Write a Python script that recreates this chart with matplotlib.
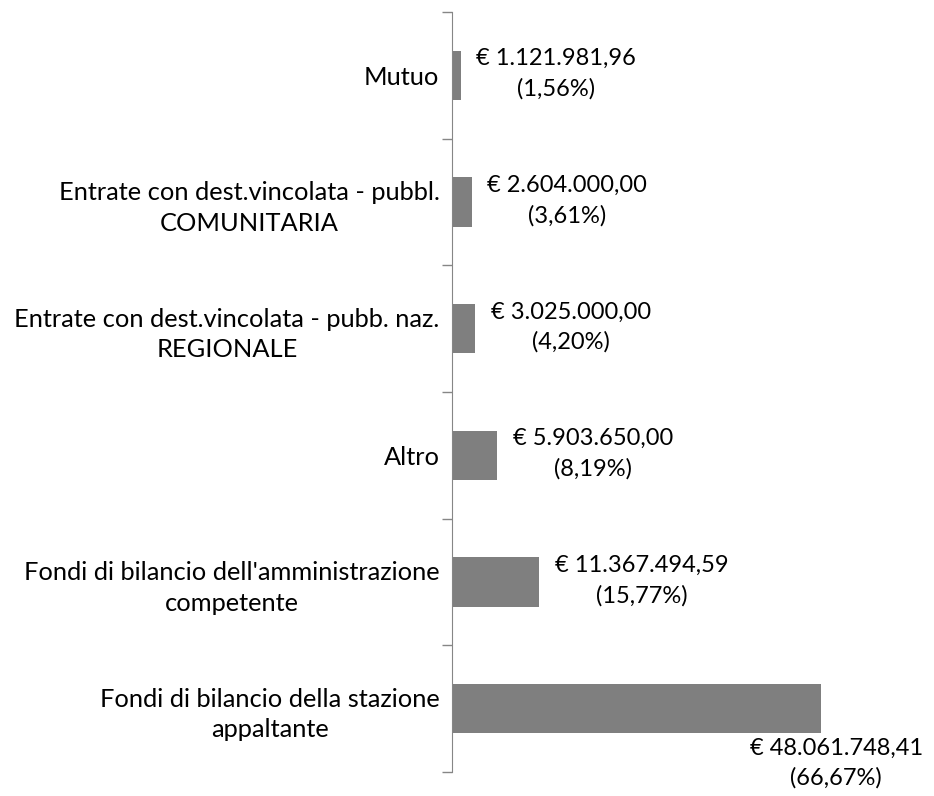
import numpy as np
import matplotlib.pyplot as plt

plt.rcParams['font.family'] = ['Lato', 'DejaVu Sans']

categorie = ['Mutuo',
             'Entrate con dest.vincolata - pubbl.\nCOMUNITARIA',
             'Entrate con dest.vincolata - pubb. naz.\nREGIONALE',
             'Altro',
             "Fondi di bilancio dell'amministrazione\ncompetente",
             'Fondi di bilancio della stazione\nappaltante']
importi = [1121981.96, 2604000.00, 3025000.00, 5903650.00, 11367494.59, 48061748.41]
etichette = ['€ 1.121.981,96\n(1,56%)',
             '€ 2.604.000,00\n(3,61%)',
             '€ 3.025.000,00\n(4,20%)',
             '€ 5.903.650,00\n(8,19%)',
             '€ 11.367.494,59\n(15,77%)',
             '€ 48.061.748,41\n(66,67%)']

W, H = 934, 796
fig = plt.figure(figsize=(W/100, H/100), dpi=100)
ax = fig.add_axes([452/W, 24/H, (915-452)/W, 760/H])

y = np.arange(len(categorie))
h = 0.39
ax.barh(y, importi, height=h, color='#7f7f7f')
ax.set_ylim(len(categorie)-0.5, -0.5)
ax.set_xlim(0, max(importi)*463/369)

fs = 17
for i, (v, t) in enumerate(zip(importi, etichette)):
    if v == max(importi):
        ax.annotate(t, (v, i+h/2), xytext=(11, -3), textcoords='offset points',
                    ha='center', va='top', multialignment='center', fontsize=fs,
                    linespacing=1.5)
    else:
        ax.annotate(t, (v, i), xytext=(11, 1), textcoords='offset points',
                    ha='left', va='center', multialignment='center', fontsize=fs,
                    linespacing=1.5)

ax.set_yticks(np.arange(len(categorie)+1)-0.5, minor=False)
ax.set_yticklabels([])
ax.set_yticks(y, minor=True)
ax.set_yticklabels(categorie, minor=True, fontsize=18.3, multialignment='center',
                   linespacing=1.4)
ax.tick_params(axis='y', which='major', length=7, color='#868686', width=1)
ax.tick_params(axis='y', which='minor', length=0, pad=9)
ax.set_xticks([])
for s in ['top', 'right', 'bottom']:
    ax.spines[s].set_visible(False)
ax.spines['left'].set_color('#868686')

plt.savefig('out.png', dpi=100)
